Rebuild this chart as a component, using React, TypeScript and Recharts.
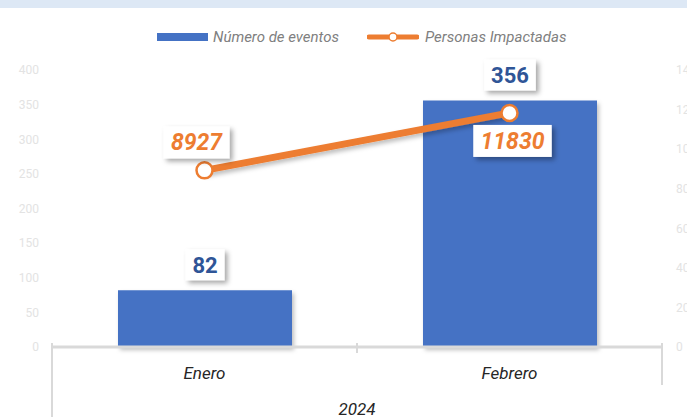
import React from "react";
import {
  ComposedChart,
  Bar,
  Line,
  XAxis,
  YAxis,
  Legend,
  LabelList,
} from "recharts";

const months = ["Enero", "Febrero"];
const eventCounts = [82, 356];
const peopleImpacted = [8927, 11830];
const yearLabel = "2024";
const leftTicks = [0, 50, 100, 150, 200, 250, 300, 350, 400];
const rightTicks = [0, 2000, 4000, 6000, 8000, 10000, 12000, 14000];

const data = months.map((m, i) => ({
  month: m,
  eventos: eventCounts[i],
  personas: peopleImpacted[i],
}));

const W = 687;
const H = 417;
const LEFT_W = 52;
const RIGHT_W = 25;
const PLOT_W = W - LEFT_W - RIGHT_W;
const BLUE = "#4472C4";
const ORANGE = "#ED7D31";
const FONT = "Roboto, 'Noto Sans', sans-serif";

const CategoryTick = (props: any) => {
  const { x, y, payload, index } = props;
  const band = PLOT_W / months.length;
  const last = index === months.length - 1;
  return (
    <g>
      <line
        x1={x + band / 2}
        x2={x + band / 2}
        y1={y - 4}
        y2={last ? y + 38 : y + 6}
        stroke="#d9d9d9"
        strokeWidth={2}
      />
      {index === 0 && (
        <>
          <line x1={x - band / 2} x2={x - band / 2} y1={y - 4} y2={y + 80} stroke="#d9d9d9" strokeWidth={2} />
          <text
            x={x + (band * (months.length - 1)) / 2}
            y={y + 68}
            textAnchor="middle"
            fontFamily={FONT}
            fontStyle="italic"
            fontSize={17}
            fill="#262626"
          >
            {yearLabel}
          </text>
        </>
      )}
      <text x={x} y={y + 32} textAnchor="middle" fontFamily={FONT} fontStyle="italic" fontSize={17} fill="#262626">
        {payload.value}
      </text>
    </g>
  );
};

const BarValueLabel = (props: any) => {
  const { x, y, width, value } = props;
  const text = String(value);
  const bw = text.length * 12.5 + 14;
  const bh = 31;
  const cx = x + width / 2;
  const top = y - 10 - bh;
  return (
    <g>
      <rect x={cx - bw / 2} y={top} width={bw} height={bh} fill="#fff" filter="url(#boxShadow)" />
      <text x={cx} y={top + bh / 2 + 8} textAnchor="middle" fontFamily={FONT} fontWeight={700} fontSize={22} fill="#2F5597">
        {text}
      </text>
    </g>
  );
};

const LineValueLabel = (props: any) => {
  const { x, y, value, index } = props;
  const text = String(value);
  const bw = text.length * 12.5 + 16;
  const bh = 32;
  const above = index === 0;
  const cx = above ? x - 8 : x + 3;
  const top = above ? y - 12 - bh : y + 12;
  return (
    <g>
      <rect x={cx - bw / 2} y={top} width={bw} height={bh} fill="#fff" filter="url(#boxShadow)" />
      <text
        x={cx}
        y={top + bh / 2 + 8}
        textAnchor="middle"
        fontFamily={FONT}
        fontWeight={700}
        fontStyle="italic"
        fontSize={23}
        fill={ORANGE}
      >
        {text}
      </text>
    </g>
  );
};

const LegendContent = () => (
  <div style={{ height: 43, position: "relative", fontFamily: FONT, fontStyle: "italic", fontSize: 15, color: "#808080" }}>
    <div style={{ position: "absolute", left: 157, top: 0, height: 20, display: "flex", alignItems: "center" }}>
      <span style={{ display: "inline-block", width: 51, height: 8, background: BLUE, marginRight: 5 }} />
      <span>Número de eventos</span>
      <svg width={52} height={12} style={{ marginLeft: 28, marginRight: 6 }}>
        <line x1={2} x2={50} y1={6} y2={6} stroke={ORANGE} strokeWidth={5} strokeLinecap="round" />
        <circle cx={26} cy={6} r={4} fill="#fff" stroke={ORANGE} strokeWidth={1.5} />
      </svg>
      <span>Personas Impactadas</span>
    </div>
  </div>
);

export default function App() {
  return (
    <div style={{ position: "absolute", left: 0, top: 0, width: W, height: H, background: "#fff", overflow: "hidden" }}>
      <div style={{ position: "absolute", left: 0, top: 0, width: W, height: 8, background: "#dde8f5" }} />
      <ComposedChart width={W} height={H} data={data} margin={{ top: 27, right: 0, bottom: 0, left: 0 }}>
        <defs>
          <filter id="boxShadow" x="-30%" y="-30%" width="160%" height="170%">
            <feDropShadow dx={3} dy={3} stdDeviation={2.5} floodColor="#000" floodOpacity={0.35} />
          </filter>
          <filter id="softShadow" x="-10%" y="-20%" width="130%" height="160%">
            <feDropShadow dx={2} dy={3} stdDeviation={2} floodColor="#000" floodOpacity={0.25} />
          </filter>
        </defs>
        <Legend
          verticalAlign="top"
          content={LegendContent}
          wrapperStyle={{ left: 0, width: W }}
        />
        <XAxis
          dataKey="month"
          height={70}
          interval={0}
          tickLine={false}
          tickSize={0}
          tickMargin={0}
          axisLine={{ stroke: "#d9d9d9", strokeWidth: 3 }}
          tick={<CategoryTick />}
        />
        <YAxis
          yAxisId="left"
          width={LEFT_W}
          domain={[0, 400]}
          ticks={leftTicks}
          axisLine={false}
          tickLine={false}
          tickSize={0}
          tickMargin={13}
          tick={{ fill: "#e3e3e3", fontSize: 12, fontFamily: FONT }}
        />
        <YAxis
          yAxisId="right"
          orientation="right"
          width={RIGHT_W}
          domain={[0, 14000]}
          ticks={rightTicks}
          axisLine={false}
          tickLine={false}
          tickSize={0}
          tickMargin={14}
          tick={{ fill: "#e3e3e3", fontSize: 12, fontFamily: FONT, textAnchor: "start" }}
        />
        <Bar
          yAxisId="left"
          dataKey="eventos"
          name="Número de eventos"
          fill={BLUE}
          barSize={174}
          filter="url(#softShadow)"
          isAnimationActive={false}
        >
          <LabelList dataKey="eventos" content={<BarValueLabel />} />
        </Bar>
        <Line
          yAxisId="right"
          dataKey="personas"
          name="Personas Impactadas"
          type="linear"
          stroke={ORANGE}
          strokeWidth={7}
          filter="url(#softShadow)"
          dot={(p: any) => (
            <circle key={`dot-${p.index}`} cx={p.cx} cy={p.cy} r={8} fill="#fff" stroke={ORANGE} strokeWidth={2.5} />
          )}
          activeDot={false}
          isAnimationActive={false}
        >
          <LabelList dataKey="personas" content={<LineValueLabel />} />
        </Line>
      </ComposedChart>
    </div>
  );
}
